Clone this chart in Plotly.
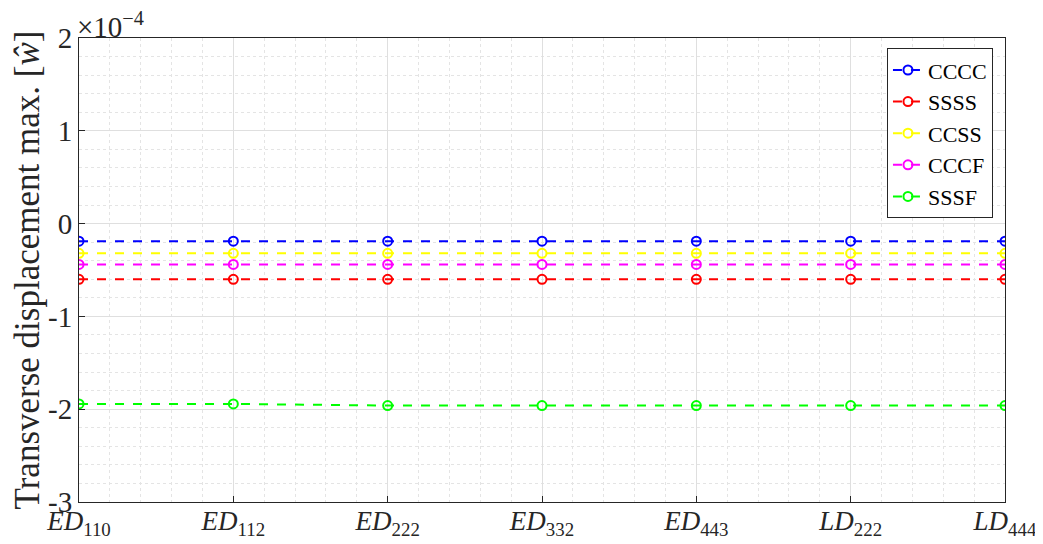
import plotly.graph_objects as go

categories = ["ED110", "ED112", "ED222", "ED332", "ED443", "LD222", "LD444"]
tick_labels = ["<i>ED</i><sub>110</sub>", "<i>ED</i><sub>112</sub>", "<i>ED</i><sub>222</sub>",
               "<i>ED</i><sub>332</sub>", "<i>ED</i><sub>443</sub>", "<i>LD</i><sub>222</sub>",
               "<i>LD</i><sub>444</sub>"]
scale = 1e-4
cccc = [-0.19e-4] * 7
ssss = [-0.60e-4] * 7
ccss = [-0.32e-4] * 7
cccf = [-0.44e-4] * 7
sssf = [-1.943e-4, -1.943e-4, -1.961e-4, -1.961e-4, -1.961e-4, -1.961e-4, -1.961e-4]

series = [("CCCC", cccc, "#0000ff"), ("SSSS", ssss, "#ff0000"), ("CCSS", ccss, "#ffff00"),
          ("CCCF", cccf, "#ff00ff"), ("SSSF", sssf, "#00ff00")]

x = list(range(len(categories)))
fig = go.Figure()
for name, vals, col in series:
    fig.add_trace(go.Scatter(
        x=x, y=[v / scale for v in vals], name=name, mode="lines+markers",
        line=dict(color=col, width=2, dash="dash"),
        marker=dict(symbol="circle-open", size=9, color=col, line=dict(width=2, color=col)),
    ))

font = "Liberation Serif, DejaVu Serif, serif"
# page body has an 8px margin: the figure is shrunk so the plot area lands where the reference has it
fig.update_layout(
    width=1035, height=536,
    margin=dict(l=71, r=38, t=30, b=42),
    paper_bgcolor="white", plot_bgcolor="white",
    font=dict(family=font, color="#262626", size=24),
    showlegend=True,
    legend=dict(x=0.987, y=0.978, xanchor="right", yanchor="top",
                bgcolor="white", bordercolor="#262626", borderwidth=1,
                font=dict(size=22, color="black"), tracegroupgap=0, itemwidth=30),
    xaxis=dict(range=[0, 6], tickvals=x, ticktext=tick_labels, tickfont=dict(size=27),
               automargin=False, ticklabelstandoff=-5,
               showline=True, linecolor="#262626", linewidth=1, mirror=True,
               ticks="inside", ticklen=6, tickcolor="#262626",
               showgrid=True, gridcolor="#dfdfdf", gridwidth=1, zeroline=False,
               minor=dict(dtick=0.2, showgrid=True, gridcolor="#e4e4e4", griddash="dot", ticks="")),
    yaxis=dict(range=[-3, 2], tickvals=[-3, -2, -1, 0, 1, 2], ticktext=["-3", "-2", "-1", "0", "1", "2"],
               tickfont=dict(size=29), automargin=False,
               showline=True, linecolor="#262626", linewidth=1, mirror=True,
               ticks="inside", ticklen=6, tickcolor="#262626",
               showgrid=True, gridcolor="#dfdfdf", gridwidth=1, zeroline=False,
               minor=dict(dtick=0.2, showgrid=True, gridcolor="#e4e4e4", griddash="dot", ticks=""),
               title=dict(text="Transverse displacement max. [<i>ŵ</i>]", font=dict(size=35), standoff=4)),
)
fig.add_annotation(x=0, y=1, xref="paper", yref="paper", xanchor="left", yanchor="bottom",
                   text="×10<sup>−4</sup>", showarrow=False, font=dict(size=29, color="#262626"),
                   xshift=-4, yshift=-7)
fig.write_html("out.html")
